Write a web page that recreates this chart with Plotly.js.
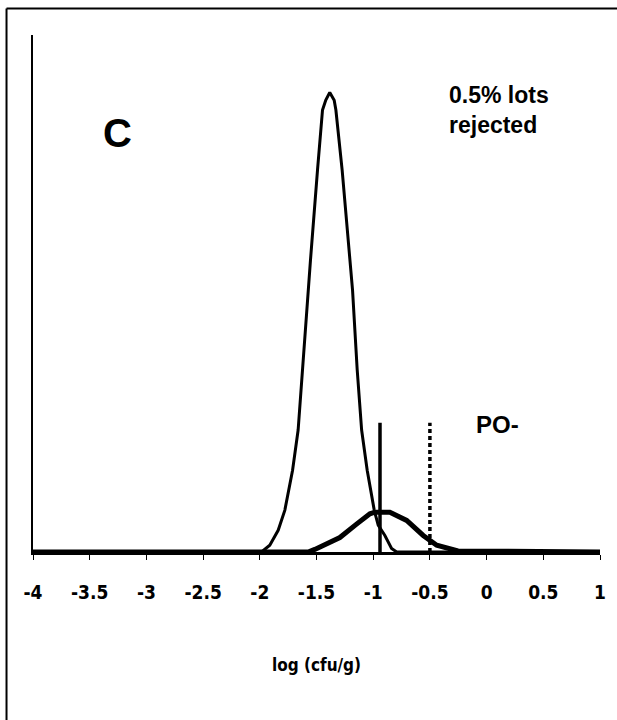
<!DOCTYPE html>
<html>
<head>
<meta charset="utf-8">
<script src="https://cdn.plot.ly/plotly-3.0.1.min.js"></script>
<style>
html,body{margin:0;padding:0;background:#fff;}
#chart{width:617px;height:720px;}
</style>
</head>
<body>
<div id="chart"></div>
<script>
// Narrow distribution (thin line)
const narrowX = [-4, -1.985, -1.912, -1.838, -1.779, -1.711, -1.662, -1.618, -1.588, -1.553, -1.491, -1.447, -1.418, -1.383, -1.344, -1.329, -1.274, -1.206, -1.182, -1.141, -1.102, -1.053, -0.991, -0.956, -0.897, -0.838, -0.793, 1];
const narrowY = [0, 0, 0.013, 0.042, 0.081, 0.158, 0.236, 0.371, 0.477, 0.565, 0.739, 0.855, 0.874, 0.889, 0.874, 0.855, 0.739, 0.575, 0.506, 0.352, 0.236, 0.158, 0.081, 0.052, 0.032, 0.007, 0, 0];
// Wide distribution (thick line)
const wideX = [-4, -1.574, -1.515, -1.441, -1.294, -1.147, -1.029, -0.985, -0.853, -0.705, -0.559, -0.44, -0.323, -0.252, 1];
const wideY = [0, 0, 0.005, 0.012, 0.028, 0.054, 0.074, 0.077, 0.077, 0.061, 0.032, 0.013, 0.005, 0.002, 0];
// Limits
const solidLimitX = -0.94;
const dottedLimitX = -0.5;
const limitTop = 0.25;
const tickVals = [-4, -3.5, -3, -2.5, -2, -1.5, -1, -0.5, 0, 0.5, 1];
const tickText = ['-4', '-3.5', '-3', '-2.5', '-2', '-1.5', '-1', '-0.5', '0', '0.5', '1'];

const narrowFont = '"DejaVu Sans Condensed", "Liberation Sans Narrow", "Arial Narrow", sans-serif';
const boldFont = '"Liberation Sans", Arial, sans-serif';

const traces = [
  {x: narrowX, y: narrowY, mode: 'lines', line: {color: '#000', width: 3}, hoverinfo: 'skip'},
  {x: wideX, y: wideY, mode: 'lines', line: {color: '#000', width: 5}, hoverinfo: 'skip'},
  {x: [solidLimitX, solidLimitX], y: [0, limitTop], mode: 'lines', line: {color: '#000', width: 3.5}, hoverinfo: 'skip'},
  {x: [dottedLimitX, dottedLimitX], y: [0, limitTop], mode: 'lines', line: {color: '#000', width: 3.5, dash: '4px,3px'}, hoverinfo: 'skip'}
];

const layout = {
  width: 617, height: 720,
  margin: {l: 33, r: 17, t: 35, b: 168},
  paper_bgcolor: '#fff', plot_bgcolor: '#fff',
  showlegend: false,
  xaxis: {
    range: [-4, 1], showgrid: false, zeroline: false,
    showline: true, linecolor: '#000', linewidth: 3,
    ticks: 'outside', ticklen: 5, tickwidth: 1, tickcolor: '#000',
    tickvals: tickVals, ticktext: tickText,
    ticklabelstandoff: 16,
    tickfont: {family: narrowFont, size: 19, color: '#000', weight: 'bold'},
    title: {text: 'log (cfu/g)', standoff: 58, font: {family: narrowFont, size: 17, color: '#000', weight: 'bold'}},
    fixedrange: true
  },
  yaxis: {
    range: [0, 1], showgrid: false, zeroline: false,
    showline: true, linecolor: '#000', linewidth: 2,
    showticklabels: false, ticks: '', fixedrange: true
  },
  annotations: [
    {x: -3.253, y: 0.81, xref: 'x', yref: 'y', text: '<b>C</b>', showarrow: false,
     font: {family: boldFont, size: 40, color: '#000'}},
    {x: -0.345, y: 0.855, xref: 'x', yref: 'y', text: '<b>0.5% lots<br>rejected</b>', showarrow: false,
     xanchor: 'left', align: 'left', font: {family: boldFont, size: 23, color: '#000'}},
    {x: 0.10, y: 0.247, xref: 'x', yref: 'y', text: '<b>PO-</b>', showarrow: false,
     font: {family: boldFont, size: 24, color: '#000'}}
  ],
  shapes: [
    {type: 'line', xref: 'paper', yref: 'paper', x0: -0.0467, x1: 1.2, y0: 1.0512, y1: 1.0512,
     line: {color: '#000', width: 2}},
    {type: 'line', xref: 'paper', yref: 'paper', x0: -0.0467, x1: -0.0467, y0: -0.4, y1: 1.0512,
     line: {color: '#000', width: 2}}
  ]
};

Plotly.newPlot('chart', traces, layout, {displayModeBar: false, staticPlot: true});
</script>
</body>
</html>
